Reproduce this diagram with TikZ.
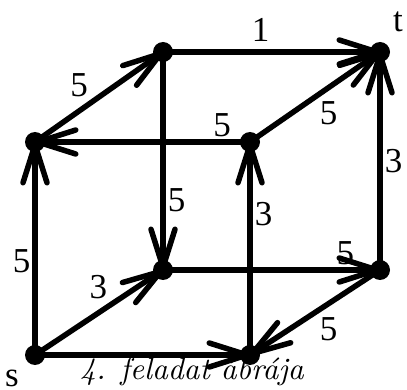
\documentclass[tikz,border=0pt]{standalone}
\usepackage{fontspec}
\setmainfont{Liberation Serif}
\newfontfamily\capfont{lmroman10-italic.otf}
\usepackage{tikz}
\usetikzlibrary{arrows.meta}
\usetikzlibrary{positioning}
\usetikzlibrary{calc}

\begin{document}
\begin{tikzpicture}[x=1pt, y=-1pt, line width=5.5pt,
    vertex/.style={circle, fill=black, inner sep=0pt, minimum size=20pt},
    arc/.style={-{Straight Barb[length=38pt, width=24pt, round]}, line cap=round},
    lbl/.style={font=\fontsize{35}{40}\selectfont, inner sep=2pt}]

        \useasboundingbox (0, 0) rectangle (407, 390);

        % Corners of the cube
        \node[vertex] (a) at (163, 52) {};
        \node[vertex] (t) at (380, 52) {};
        \node[vertex] (b) at (35, 142) {};
        \node[vertex] (c) at (250, 142) {};
        \node[vertex] (d) at (163, 270) {};
        \node[vertex] (e) at (380, 270) {};
        \node[vertex] (s) at (35, 355) {};
        \node[vertex] (f) at (250, 355) {};

        % Source and sink names
        \node[lbl] (sname) at (12, 378) {s};
        \node[lbl] (tname) at (398, 22) {t};

        % Directed edges with capacities
        \draw[arc] (b.center) -- node[lbl, pos=0.45, above left] {5} (a.center);
        \draw[arc] (a.center) -- node[lbl, pos=0.45, above=6pt] {1} (t.center);
        \draw[arc] (c.center) -- node[lbl, pos=0.5, below right] {5} (t.center);
        \draw[arc] (c.center) -- node[lbl, pos=0.13, above] {5} (b.center);
        \draw[arc] (a.center) -- node[lbl, pos=0.68, right] {5} (d.center);
        \draw[arc] (f.center) -- node[lbl, pos=0.66, right] {3} (c.center);
        \draw[arc] (s.center) -- node[lbl, pos=0.44, left] {5} (b.center);
        \draw[arc] (s.center) -- node[lbl, pos=0.6, above left] {3} (d.center);
        \draw[arc] (d.center) -- node[lbl, pos=0.84, above] {5} (e.center);
        \draw[arc] (e.center) -- node[lbl, pos=0.5, right] {3} (t.center);
        \draw[arc] (e.center) -- node[lbl, pos=0.5, below right] {5} (f.center);
        \draw[arc] (s.center) -- (f.center);

        % Caption
        \node[font=\capfont\fontsize{31}{35}\selectfont] (caption) at (192, 372) {4. feladat ábrája};

      \end{tikzpicture}
\end{document}
